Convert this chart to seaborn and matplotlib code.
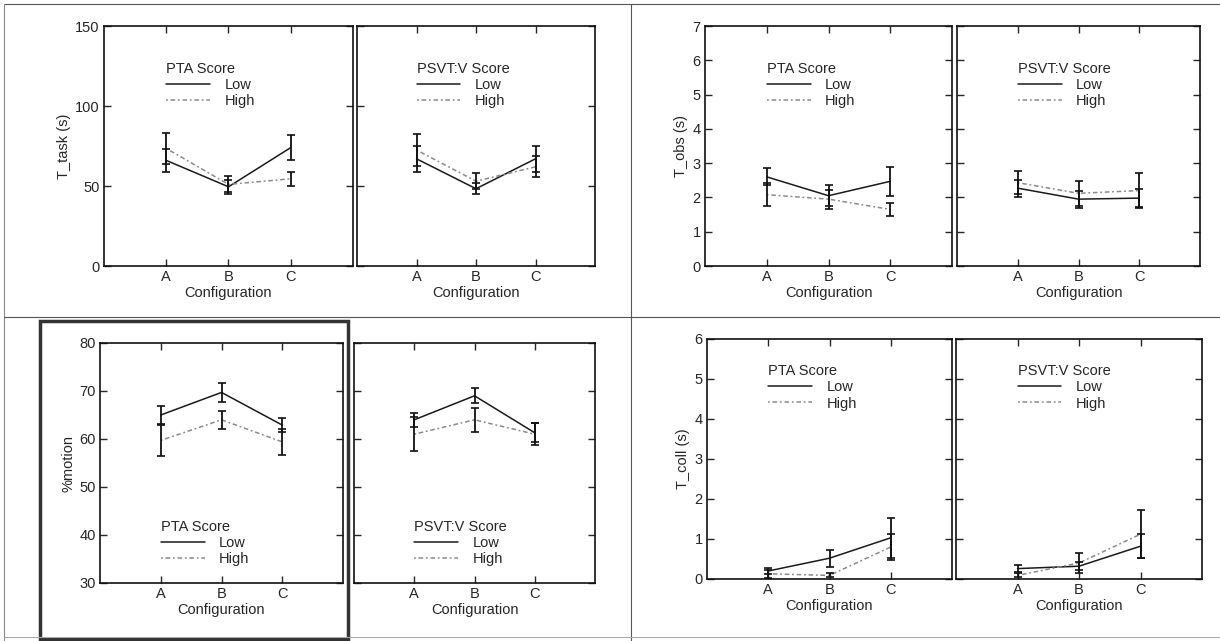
import matplotlib
matplotlib.use("Agg")
import matplotlib.pyplot as plt
import numpy as np
import pandas as pd
import seaborn as sns
from matplotlib.lines import Line2D
from matplotlib.patches import Rectangle

# configurations on the x axis
configs = ["A", "B", "C"]
levels = ["Low", "High"]

# T_task (s)
task_pta_low = [66, 49.5, 74]
task_pta_low_err = [7, 4.5, 8]
task_pta_high = [73.5, 51, 54.5]
task_pta_high_err = [9.5, 5, 4.3]
task_psvt_low = [67, 48.3, 67]
task_psvt_low_err = [8, 3.5, 8]
task_psvt_high = [72.5, 53, 62]
task_psvt_high_err = [10, 5, 6.5]

# T_obs (s)
obs_pta_low = [2.6, 2.05, 2.47]
obs_pta_low_err = [0.25, 0.3, 0.43]
obs_pta_high = [2.08, 1.95, 1.65]
obs_pta_high_err = [0.33, 0.28, 0.2]
obs_psvt_low = [2.27, 1.95, 1.98]
obs_psvt_low_err = [0.25, 0.25, 0.27]
obs_psvt_high = [2.43, 2.12, 2.2]
obs_psvt_high_err = [0.33, 0.37, 0.5]

# %motion
mot_pta_low = [65, 69.7, 62.9]
mot_pta_low_err = [1.8, 2, 1.4]
mot_pta_high = [59.7, 64, 59.4]
mot_pta_high_err = [3.3, 1.9, 2.7]
mot_psvt_low = [64, 69, 61.3]
mot_psvt_low_err = [1.5, 1.6, 2]
mot_psvt_high = [61, 64, 61]
mot_psvt_high_err = [3.6, 2.5, 2.3]

# T_coll (s)
coll_pta_low = [0.2, 0.52, 1.03]
coll_pta_low_err = [0.07, 0.21, 0.5]
coll_pta_high = [0.13, 0.09, 0.8]
coll_pta_high_err = [0.1, 0.05, 0.33]
coll_psvt_low = [0.26, 0.32, 0.82]
coll_psvt_low_err = [0.08, 0.1, 0.3]
coll_psvt_high = [0.09, 0.4, 1.12]
coll_psvt_high_err = [0.05, 0.25, 0.6]

W, H = 1220, 641

sns.set_style("white")
plt.rcParams["font.family"] = ["Liberation Sans", "DejaVu Sans"]

colors = {"Low": "#1a1a1a", "High": "#8a8a8a"}
dashes = {"Low": "", "High": (1.2, 1.8, 3, 1.8)}
FS = 10.5


def rect(l, t, r, b):
    return [l / W, 1 - b / H, (r - l) / W, (b - t) / H]


def make_df(low, low_err, high, high_err):
    rows = []
    for lev, m, e in (("Low", low, low_err), ("High", high, high_err)):
        for i, c in enumerate(configs):
            rows.append({"pos": i + 1, "config": c, "level": lev, "mean": m[i], "err": e[i]})
    return pd.DataFrame(rows)


def panel(fig, box, df, ylim, yticks, ylabel, title, show_y, legend_loc):
    ax = fig.add_axes(rect(*box))
    sns.lineplot(data=df, x="pos", y="mean", hue="level", style="level",
                 palette=colors, dashes=dashes, lw=1.1, legend=False, ax=ax)
    for lev in levels:
        sub = df[df["level"] == lev]
        ax.errorbar(sub["pos"], sub["mean"], yerr=sub["err"], fmt="none",
                    ecolor="#111", elinewidth=1.3, capsize=3, capthick=1.2)
    ax.set_xlim(0, 4)
    ax.set_ylim(*ylim)
    ax.set_xticks([1, 2, 3])
    ax.set_xticklabels(configs)
    ax.set_yticks(yticks)
    ax.tick_params(direction="in", length=5, width=1, top=True, right=True,
                   left=True, bottom=True, labelsize=FS, pad=3)
    for s in ax.spines.values():
        s.set_color("#111")
        s.set_linewidth(1.2)
    ax.set_xlabel("Configuration", fontsize=FS, labelpad=1)
    if show_y:
        ax.set_ylabel(ylabel, fontsize=FS, labelpad=3)
    else:
        ax.set_ylabel("")
        ax.set_yticklabels([])
    handles = [Line2D([], [], color=colors["Low"], lw=1.1),
               Line2D([], [], color=colors["High"], lw=1.1, dashes=dashes["High"])]
    loc, anchor = legend_loc
    ax.legend(handles, levels, title=title, loc=loc, bbox_to_anchor=anchor,
              frameon=False, alignment="left", handlelength=3.0,
              handletextpad=1.0, labelspacing=0.15, borderpad=0,
              borderaxespad=0, fontsize=FS, title_fontsize=FS)
    return ax


fig = plt.figure(figsize=(W / 100, H / 100), dpi=100)

top_leg = ("upper left", (0.25, 0.85))
bot_leg = ("lower left", (0.25, 0.07))
coll_leg = ("upper left", (0.25, 0.895))

panel(fig, (104, 26, 353, 266), make_df(task_pta_low, task_pta_low_err, task_pta_high, task_pta_high_err),
      (0, 150), [0, 50, 100, 150], "T_task (s)", "PTA Score", True, top_leg)
panel(fig, (357, 26, 595, 266), make_df(task_psvt_low, task_psvt_low_err, task_psvt_high, task_psvt_high_err),
      (0, 150), [0, 50, 100, 150], "T_task (s)", "PSVT:V Score", False, top_leg)
panel(fig, (705, 26, 952, 266), make_df(obs_pta_low, obs_pta_low_err, obs_pta_high, obs_pta_high_err),
      (0, 7), range(8), "T_obs (s)", "PTA Score", True, top_leg)
panel(fig, (957, 26, 1200, 266), make_df(obs_psvt_low, obs_psvt_low_err, obs_psvt_high, obs_psvt_high_err),
      (0, 7), range(8), "T_obs (s)", "PSVT:V Score", False, top_leg)
panel(fig, (100, 343, 343, 583), make_df(mot_pta_low, mot_pta_low_err, mot_pta_high, mot_pta_high_err),
      (30, 80), range(30, 81, 10), "%motion", "PTA Score", True, bot_leg)
panel(fig, (354, 343, 595, 583), make_df(mot_psvt_low, mot_psvt_low_err, mot_psvt_high, mot_psvt_high_err),
      (30, 80), range(30, 81, 10), "%motion", "PSVT:V Score", False, bot_leg)
panel(fig, (707, 339, 952, 579), make_df(coll_pta_low, coll_pta_low_err, coll_pta_high, coll_pta_high_err),
      (0, 6), range(7), "T_coll (s)", "PTA Score", True, coll_leg)
panel(fig, (956, 339, 1202, 579), make_df(coll_psvt_low, coll_psvt_low_err, coll_psvt_high, coll_psvt_high_err),
      (0, 6), range(7), "T_coll (s)", "PSVT:V Score", False, coll_leg)


def fig_line(x0, y0, x1, y1, color="#555", lw=0.8):
    fig.add_artist(Line2D([x0 / W, x1 / W], [1 - y0 / H, 1 - y1 / H],
                          transform=fig.transFigure, color=color, lw=lw))


# quadrant frame lines
fig_line(4, 4, 1220, 4)
fig_line(4, 4, 4, 641, color="#888")
fig_line(4, 317, 1220, 317)
fig_line(631, 4, 631, 641)
fig_line(4, 637, 1220, 637, color="#aaa")

# heavy box around the %motion / PTA panel
fig.add_artist(Rectangle((40 / W, 1 - 639 / H), 308 / W, 318 / H,
                         transform=fig.transFigure, fill=False,
                         edgecolor="#333", lw=2.5))

fig.savefig("out.png", dpi=100)
